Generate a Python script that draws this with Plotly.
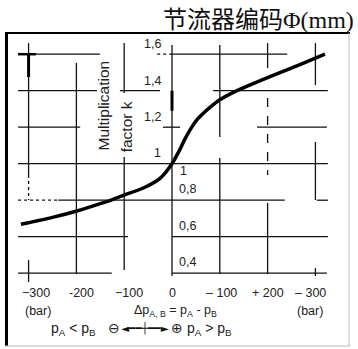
import plotly.graph_objects as go

# ---- data ----
dp_bar = [-316, -250, -199, -150, -123, -100, -60, -25, 0, 15, 27, 40, 52, 65, 80, 100, 136, 205, 274, 320]
factor_k = [0.668, 0.706, 0.741, 0.781, 0.805, 0.828, 0.867, 0.92, 1.0, 1.07, 1.135, 1.195, 1.24, 1.275, 1.31, 1.35, 1.40, 1.477, 1.55, 1.60]

x_tick_vals = [-300, -200, -100, 0, 100, 200, 300]
x_tick_text = ["\u2212300", "-200", "\u2212100", "0", "\u2013 100", "+ 200", "\u2013 300"]
x_tick_shift = [7, 5, 5, 0, 2, 0, -5]

y_tick_vals = [1.6, 1.4, 1.2]
y_tick_text = ["1,6", "1,4", "1,2"]
y_tick_vals_low = [0.8, 0.6, 0.4]
y_tick_text_low = ["0,8", "0,6", "0,4"]

title_text = "节流器编码Φ(mm)"

# ---- grid fragments (data units) ----
h_segments = [  # (k, x0, x1, dash)
    (1.6, -322, -151, "solid"), (1.6, -31, 0, "dot"), (1.6, 0, 241, "solid"),
    (1.4, -322, -157, "solid"), (1.4, -109, -25, "solid"), (1.4, 86, 326, "solid"),
    (1.2, -322, -192, "solid"), (1.2, -19, 17, "solid"), (1.2, 178, 324, "solid"),
    (1.0, -322, 326, "solid"),
    (0.8, -322, -238, "dot"), (0.8, -238, 236, "solid"), (0.8, 303, 326, "solid"),
    (0.6, -322, -92, "solid"), (0.6, 0, 326, "solid"),
    (0.4, -322, -126, "solid"), (0.4, 0, 324, "solid"),
]
v_segments = [  # (bar, k0, k1, dash)
    (-300, 1.661, 0.938, "solid"), (-300, 0.938, 0.801, "dot"), (-300, 0.472, 0.352, "solid"),
    (-200, 1.552, 0.396, "solid"),
    (-100, 1.661, 1.387, "solid"), (-100, 1.037, 0.418, "solid"),
    (0, 1.650, 0.385, "solid"),
    (100, 1.650, 1.146, "solid"), (100, 1.031, 0.396, "solid"),
    (200, 1.661, 1.524, "solid"), (200, 1.360, 0.938, "dash"), (200, 0.785, 0.396, "solid"),
    (300, 1.661, 1.431, "solid"), (300, 1.119, 0.801, "solid"), (300, 0.428, 0.385, "solid"),
]

fig = go.Figure()

shapes = []
for k, x0, x1, d in h_segments:
    shapes.append(dict(type="line", x0=x0, x1=x1, y0=k, y1=k,
                       line=dict(color="#111", width=1.3, dash=d)))
for b, k0, k1, d in v_segments:
    shapes.append(dict(type="line", x0=b, x1=b, y0=k0, y1=k1,
                       line=dict(color="#111", width=1.3, dash=d)))
# thicker scan fragments
shapes.append(dict(type="line", x0=-300, x1=-300, y0=1.595, y1=1.475, line=dict(color="#000", width=3)))
shapes.append(dict(type="line", x0=0, x1=0, y0=1.40, y1=1.29, line=dict(color="#000", width=3)))
shapes.append(dict(type="line", x0=-322, x1=-285, y0=1.6, y1=1.6, line=dict(color="#000", width=2.5)))

# frame
shapes.append(dict(type="line", xref="paper", yref="paper", x0=6.5/358, x1=6.5/358,
                   y0=1-33/349, y1=1-346/349, line=dict(color="#000", width=3)))
shapes.append(dict(type="line", xref="paper", yref="paper", x0=5/358, x1=350/358,
                   y0=1-33/349, y1=1-33/349, line=dict(color="#000", width=2)))
shapes.append(dict(type="line", xref="paper", yref="paper", x0=349/358, x1=349/358,
                   y0=1-33/349, y1=1-346/349, line=dict(color="#bbb", width=1)))
shapes.append(dict(type="line", xref="paper", yref="paper", x0=5/358, x1=350/358,
                   y0=1-346/349, y1=1-346/349, line=dict(color="#bbb", width=1)))

fig.add_trace(go.Scatter(x=dp_bar, y=factor_k, mode="lines",
                         line=dict(color="#000", width=3.5, shape="spline", smoothing=0.6),
                         hoverinfo="skip", showlegend=False))

lab_font = dict(family="Liberation Sans, Arial, sans-serif", size=12.5, color="#222")
row_font = dict(family="Liberation Sans, Arial, sans-serif", size=14, color="#222")
sym_font = dict(family="DejaVu Sans, sans-serif", size=14, color="#222")
ann = []
for v, t in zip(y_tick_vals, y_tick_text):
    ann.append(dict(x=-19, y=v, text=t, showarrow=False, xanchor="right", yanchor="middle",
                    yshift=10, font=lab_font))
for v, t in zip(y_tick_vals_low, y_tick_text_low):
    ann.append(dict(x=10, y=v, text=t, showarrow=False, xanchor="left", yanchor="middle",
                    yshift=11, font=lab_font))
ann.append(dict(x=-19, y=1.0, text="1", showarrow=False, xanchor="right", yanchor="middle",
                yshift=11, font=lab_font))
ann.append(dict(x=12, y=1.0, text="1", showarrow=False, xanchor="left", yanchor="middle",
                yshift=-7, font=lab_font))
for v, t, s in zip(x_tick_vals, x_tick_text, x_tick_shift):
    ann.append(dict(x=v, y=0.291, text=t, showarrow=False, xanchor="center", yanchor="middle",
                    xshift=s, font=lab_font))
ann.append(dict(x=-280, y=0.193, text="(bar)", showarrow=False, font=lab_font))
ann.append(dict(x=289, y=0.193, text="(bar)", showarrow=False, font=lab_font))
ann.append(dict(x=8, y=0.193, text="\u0394p<sub>A, B</sub> = p<sub>A</sub> - p<sub>B</sub>",
                showarrow=False, font=lab_font))
# bottom sign-convention row
ann.append(dict(x=-155, y=0.097, text="p<sub>A</sub> < p<sub>B</sub>", showarrow=False,
                xanchor="right", font=row_font))
ann.append(dict(x=-122, y=0.099, text="\u2296", showarrow=False, font=sym_font))
ann.append(dict(x=-56, y=0.099, text="\u25c4\u2501\u2501\u253c\u2501\u2501\u25ba", showarrow=False,
                font=dict(family="DejaVu Sans, sans-serif", size=10.5, color="#111")))
ann.append(dict(x=10, y=0.099, text="\u2295", showarrow=False, font=sym_font))
ann.append(dict(x=28, y=0.097, text="p<sub>A</sub> > p<sub>B</sub>", showarrow=False,
                xanchor="left", font=row_font))
# rotated y-axis caption
ann.append(dict(x=-144, y=1.32, text="Multiplication", textangle=-90, showarrow=False,
                font=dict(family="Liberation Sans, Arial, sans-serif", size=15.5, color="#222")))
ann.append(dict(x=-96, y=1.20, text="factor k", textangle=-90, showarrow=False,
                font=dict(family="Liberation Sans, Arial, sans-serif", size=15.5, color="#222")))
ann.append(dict(xref="paper", yref="paper", x=356/358, y=1-20/349, text=title_text,
                showarrow=False, xanchor="right", yanchor="middle",
                font=dict(family="Liberation Serif, Noto Sans CJK SC, serif", size=24, color="#111")))

fig.update_layout(
    width=358, height=349, margin=dict(l=0, r=0, t=0, b=0, autoexpand=False),
    paper_bgcolor="white", plot_bgcolor="white",
    xaxis=dict(range=[-359.8, 389.1], visible=False, fixedrange=True),
    yaxis=dict(range=[-0.0153, 1.897], visible=False, fixedrange=True),
    shapes=shapes, annotations=ann, showlegend=False,
)
fig.write_html("out.html", config={"displayModeBar": False},
               post_script="document.body.style.margin='0';document.body.style.overflow='hidden';")
